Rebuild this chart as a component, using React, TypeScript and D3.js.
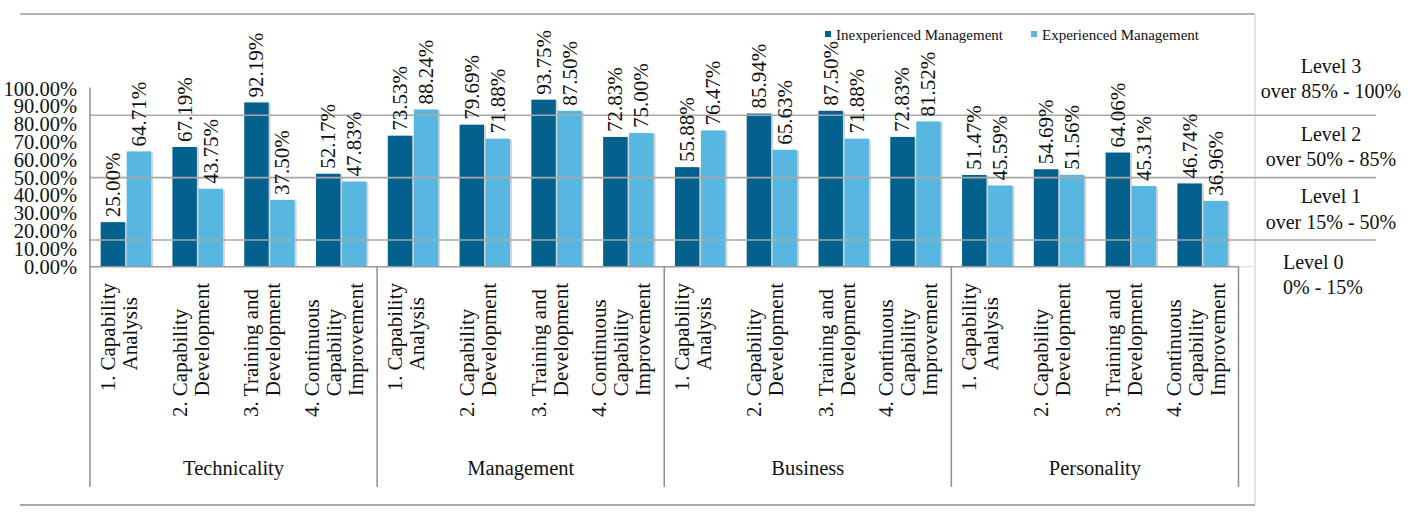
import React, { useRef, useEffect } from 'react';
import * as d3 from 'd3';

// chart data
const groups = ['Technicality', 'Management', 'Business', 'Personality'];
const subPrefixes = ['1.', '2.', '3.', '4.'];
const subLines = [
  ['Capability', 'Analysis'],
  ['Capability', 'Development'],
  ['Training and', 'Development'],
  ['Continuous', 'Capability', 'Improvement'],
];
const seriesNames = ['Inexperienced Management', 'Experienced Management'];
const inexperienced = [25.0, 67.19, 92.19, 52.17, 73.53, 79.69, 93.75, 72.83, 55.88, 85.94, 87.5, 72.83, 51.47, 54.69, 64.06, 46.74];
const experienced = [64.71, 43.75, 37.5, 47.83, 88.24, 71.88, 87.5, 75.0, 76.47, 65.63, 71.88, 81.52, 45.59, 51.56, 45.31, 36.96];
const yTicks = [0, 10, 20, 30, 40, 50, 60, 70, 80, 90, 100];
const levelBounds = [15, 50, 85];
const levelNames = ['Level 3', 'Level 2', 'Level 1', 'Level 0'];
const levelRanges = ['over 85% - 100%', 'over 50% - 85%', 'over 15% - 50%', '0% - 15%'];
const levelLo = [85, 50, 15, 0];
const levelHi = [100, 85, 50, 15];

const colors = ['#04618e', '#58b7e1'];
const FONT = '"Liberation Serif", "Times New Roman", serif';

const App: React.FC = () => {
  const ref = useRef<SVGSVGElement>(null);

  useEffect(() => {
    if (!ref.current) return;
    const svg = d3.select(ref.current);
    svg.selectAll('*').remove();

    const W = 1408;
    const H = 512;
    const left = 90;
    const right = 1238.5;
    const axisBottom = 487;

    const n = groups.length * subPrefixes.length;
    const x0 = d3.scaleBand<number>().domain(d3.range(n)).range([left, right]).padding(0);
    const x1 = d3
      .scaleBand<number>()
      .domain([0, 1])
      .range([0, x0.bandwidth()])
      .paddingInner(0.06)
      .paddingOuter(0.41);
    const y = d3.scaleLinear().domain([0, 100]).range([266.7, 88.5]);

    svg.append('rect').attr('width', W).attr('height', H).attr('fill', '#fff');

    // outer frame
    svg.append('line').attr('x1', 20).attr('x2', 1255).attr('y1', 14).attr('y2', 14)
      .attr('stroke', '#b3b3b3').attr('stroke-width', 2);
    svg.append('line').attr('x1', 1255).attr('x2', 1255).attr('y1', 14).attr('y2', 505)
      .attr('stroke', '#dadada').attr('stroke-width', 1.5);
    svg.append('line').attr('x1', 20).attr('x2', 1255).attr('y1', 505).attr('y2', 505)
      .attr('stroke', '#a9a9a9').attr('stroke-width', 2);

    const series = [inexperienced, experienced];

    // bars
    const bars = svg.append('g');
    series.forEach((vals, s) => {
      vals.forEach((v, i) => {
        const bx = (x0(i) as number) + (x1(s) as number);
        bars.append('rect')
          .attr('x', bx + 2).attr('y', y(v) + 1)
          .attr('width', x1.bandwidth()).attr('height', y(0) - y(v) - 1)
          .attr('fill', '#d4d4d4');
        bars.append('rect')
          .attr('x', bx).attr('y', y(v))
          .attr('width', x1.bandwidth()).attr('height', y(0) - y(v))
          .attr('fill', colors[s]);
      });
    });

    // level grid lines (drawn over the bars)
    svg.append('g').selectAll('line').data(levelBounds).enter().append('line')
      .attr('x1', left).attr('x2', 1376)
      .attr('y1', d => y(d)).attr('y2', d => y(d))
      .attr('stroke', '#a8a8a8').attr('stroke-width', 1.6);

    // axes
    svg.append('line').attr('x1', left).attr('x2', right).attr('y1', y(0)).attr('y2', y(0))
      .attr('stroke', '#9a9a9a').attr('stroke-width', 1.5);
    svg.append('line').attr('x1', right).attr('x2', 1255).attr('y1', y(0)).attr('y2', y(0))
      .attr('stroke', '#e0e0e0').attr('stroke-width', 1.2);
    svg.append('line').attr('x1', left).attr('x2', left).attr('y1', y(100) - 1).attr('y2', axisBottom)
      .attr('stroke', '#8e8e8e').attr('stroke-width', 1.5);
    groups.forEach((g, gi) => {
      const xs = gi === groups.length - 1 ? right : (x0((gi + 1) * 4) as number);
      svg.append('line').attr('x1', xs).attr('x2', xs).attr('y1', y(0)).attr('y2', axisBottom)
        .attr('stroke', '#8e8e8e').attr('stroke-width', 1.5);
    });

    // y tick labels
    const fmt = d3.format('.2f');
    svg.append('g').selectAll('text').data(yTicks).enter().append('text')
      .attr('x', 77).attr('y', d => y(d))
      .attr('text-anchor', 'end').attr('dominant-baseline', 'central')
      .attr('font-family', FONT).attr('font-size', 20.5).attr('fill', '#111')
      .text(d => `${fmt(d)}%`);

    // value labels
    series.forEach((vals, s) => {
      vals.forEach((v, i) => {
        const cx = (x0(i) as number) + (x1(s) as number) + x1.bandwidth() / 2;
        svg.append('text')
          .attr('transform', `translate(${cx},${y(v) - 5}) rotate(-90)`)
          .attr('text-anchor', 'start').attr('dominant-baseline', 'central')
          .attr('font-family', FONT).attr('font-size', 21).attr('fill', '#111')
          .text(`${fmt(v)}%`);
      });
    });

    // category labels (rotated, wrapped)
    const pitch = 22;
    const labelTop = 283;
    d3.range(n).forEach(i => {
      const sub = i % subPrefixes.length;
      const lines = subLines[sub];
      const cx = (x0(i) as number) + x0.bandwidth() / 2 - 7;
      const texts = lines.map(() =>
        svg.append('text')
          .attr('text-anchor', 'start').attr('dominant-baseline', 'central')
          .attr('font-family', FONT).attr('font-size', 21).attr('fill', '#111')
      );
      texts.forEach((t, k) => t.text(lines[k]));
      const maxW = d3.max(texts, t => (t.node() as SVGTextElement).getComputedTextLength()) || 0;
      const bottom = labelTop + maxW;
      texts.forEach((t, k) => {
        const lx = cx + (k - (lines.length - 1) / 2) * pitch;
        t.attr('transform', `translate(${lx},${bottom}) rotate(-90)`);
      });
      const px = cx - ((lines.length - 1) / 2) * pitch;
      svg.append('text')
        .attr('transform', `translate(${px},${bottom + 5}) rotate(-90)`)
        .attr('text-anchor', 'end').attr('dominant-baseline', 'central')
        .attr('font-family', FONT).attr('font-size', 21).attr('fill', '#111')
        .text(subPrefixes[sub]);
    });

    // group labels
    groups.forEach((g, gi) => {
      const gx0 = x0(gi * 4) as number;
      const gx1 = gi === groups.length - 1 ? right : (x0((gi + 1) * 4) as number);
      svg.append('text')
        .attr('x', (gx0 + gx1) / 2).attr('y', 468)
        .attr('text-anchor', 'middle').attr('dominant-baseline', 'central')
        .attr('font-family', FONT).attr('font-size', 20.5).attr('fill', '#111')
        .text(g);
    });

    // legend
    const legendX = [825, 1031];
    seriesNames.forEach((name, s) => {
      svg.append('rect').attr('x', legendX[s]).attr('y', 31).attr('width', 6).attr('height', 6)
        .attr('fill', colors[s]);
      svg.append('text')
        .attr('x', legendX[s] + 11).attr('y', 34.5)
        .attr('dominant-baseline', 'central')
        .attr('font-family', FONT).attr('font-size', 15).attr('fill', '#111')
        .text(name);
    });

    // level annotations on the right
    const gap = 25.5;
    levelNames.forEach((name, li) => {
      let y1: number;
      if (li === 0) y1 = y(levelLo[li]) - 24 - gap;
      else if (li === levelNames.length - 1) y1 = y(levelHi[li]) + 22;
      else y1 = y((levelLo[li] + levelHi[li]) / 2) - gap / 2;
      const isLast = li === levelNames.length - 1;
      const tx = isLast ? 1283 : 1331;
      const anchor = isLast ? 'start' : 'middle';
      [name, levelRanges[li]].forEach((txt, k) => {
        svg.append('text')
          .attr('x', tx).attr('y', y1 + k * gap)
          .attr('text-anchor', anchor).attr('dominant-baseline', 'central')
          .attr('font-family', FONT).attr('font-size', 20).attr('fill', '#111')
          .text(txt);
      });
    });
  }, []);

  return (
    <svg
      ref={ref}
      width={1408}
      height={512}
      style={{ position: 'absolute', left: 0, top: 0, display: 'block' }}
    />
  );
};

export default App;
